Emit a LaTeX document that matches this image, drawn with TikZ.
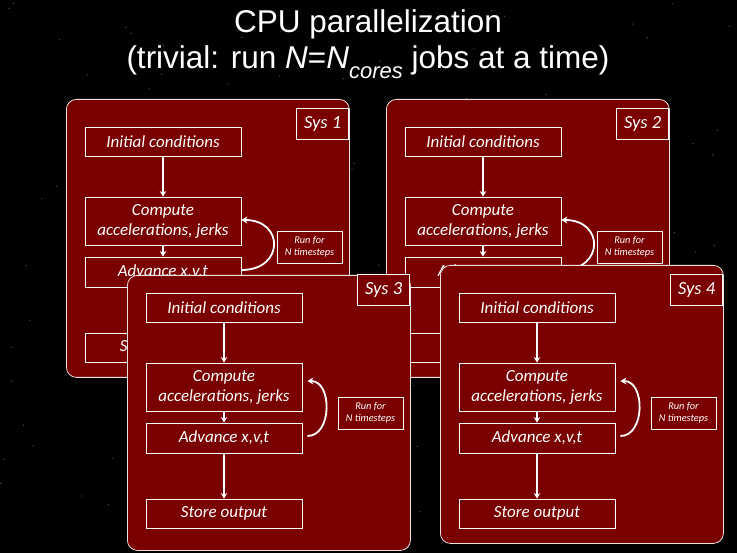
\documentclass[tikz,border=0pt]{standalone}
\usepackage{fontspec}
\setmainfont{Liberation Sans}
\newfontfamily\boxfont{Carlito}
\usetikzlibrary{arrows.meta}
\definecolor{panelred}{RGB}{122,0,0}
\definecolor{edgegray}{RGB}{235,225,225}
\tikzset{
  panelframe/.style={draw=edgegray, line width=0.8pt, fill=panelred, rounded corners=10pt, inner sep=0pt, anchor=north west},
  stepbox/.style={draw=white, line width=0.8pt, fill=panelred, text=white, inner sep=0pt, align=center,
     minimum width=156pt, font=\boxfont\itshape\fontsize{17}{20}\selectfont},
  labelbox/.style={draw=white, line width=0.8pt, fill=panelred, text=white, inner sep=0pt, anchor=north east,
     minimum width=52pt, minimum height=31pt, font=\boxfont\itshape\fontsize{18.5}{20}\selectfont},
  runbox/.style={draw=white, line width=0.7pt, fill=panelred, text=white, inner sep=0pt, align=center,
     minimum width=65pt, minimum height=32pt, font=\boxfont\itshape\fontsize{10.3}{12}\selectfont},
  flow/.style={draw=white, line width=1.8pt, -{Stealth[length=5.5pt,width=6.5pt]}},
  loopflow/.style={draw=white, line width=1.8pt, -{Stealth[length=6pt,width=7pt]}},
  titletext/.style={text=white, inner sep=0pt, font=\fontsize{31.5}{34}\selectfont}
}
% #1 id, #2 dx, #3 dy, #4 label, #5 frame top, #6 frame height, #7 loop gap, #8 loop end lift, #9 loop bulge
\newcommand{\syspanel}[9]{%
 \begin{scope}[shift={(#2,#3)}]
  \node[panelframe, minimum width=283pt, minimum height=#6] (frame#1) at (66,#5) {};
  \node[labelbox] (label#1) at (349,108) {Sys #4};
  \node[stepbox, minimum height=29pt] (init#1) at (163,141.5) {Initial conditions};
  \node[stepbox, minimum height=48pt] (comp#1) at (163,221) {Compute\\accelerations, jerks};
  \node[stepbox, minimum height=30pt] (adv#1) at (163,272) {Advance \textit{x},\textit{v},\textit{t}};
  \node[stepbox, minimum height=29pt] (store#1) at (163,347.5) {Store output};
  \node[runbox] (run#1) at (309.5,247) {Run for\\\textit{N} timesteps};
  \draw[flow] (init#1.south) -- (comp#1.north);
  \draw[flow] (comp#1.south) -- (adv#1.north);
  \draw[flow] (adv#1.south) -- (store#1.north);
  \draw[loopflow] ([xshift=#7,yshift=2pt]adv#1.east) .. controls +(#9,0) and +(#9,0) .. ([xshift=#7,yshift=#8]comp#1.east);
 \end{scope}}
\begin{document}
\begin{tikzpicture}[x=1pt,y=-1pt]
  \fill[black] (0,0) rectangle (737,553);
  \useasboundingbox (0,0) rectangle (737,553);
  \pgfmathsetseed{11}
  \foreach \i in {1,...,140} {
    \pgfmathsetmacro\sx{rnd*737}
    \pgfmathsetmacro\sy{rnd*553}
    \fill[gray!60, opacity=0.45] (\sx,\sy) circle[radius=0.7pt];
  }
  \node[titletext, anchor=base] (title1) at (368,33) {CPU parallelization};
  \node[titletext, anchor=base] (title2) at (368,69) {(trivial: run \textit{N}=\textit{N}\raisebox{-0.3em}{\fontsize{22}{22}\selectfont\itshape cores} jobs at a time)};
  \syspanel{1}{0}{0}{1}{99}{278pt}{0pt}{1pt}{43}
  \syspanel{2}{320}{0}{2}{99}{278pt}{0pt}{1pt}{43}
  \syspanel{3}{61}{166}{3}{109}{275pt}{5pt}{6pt}{25}
  \syspanel{4}{374}{166}{4}{99}{278pt}{5pt}{6pt}{25}
\end{tikzpicture}
\end{document}
